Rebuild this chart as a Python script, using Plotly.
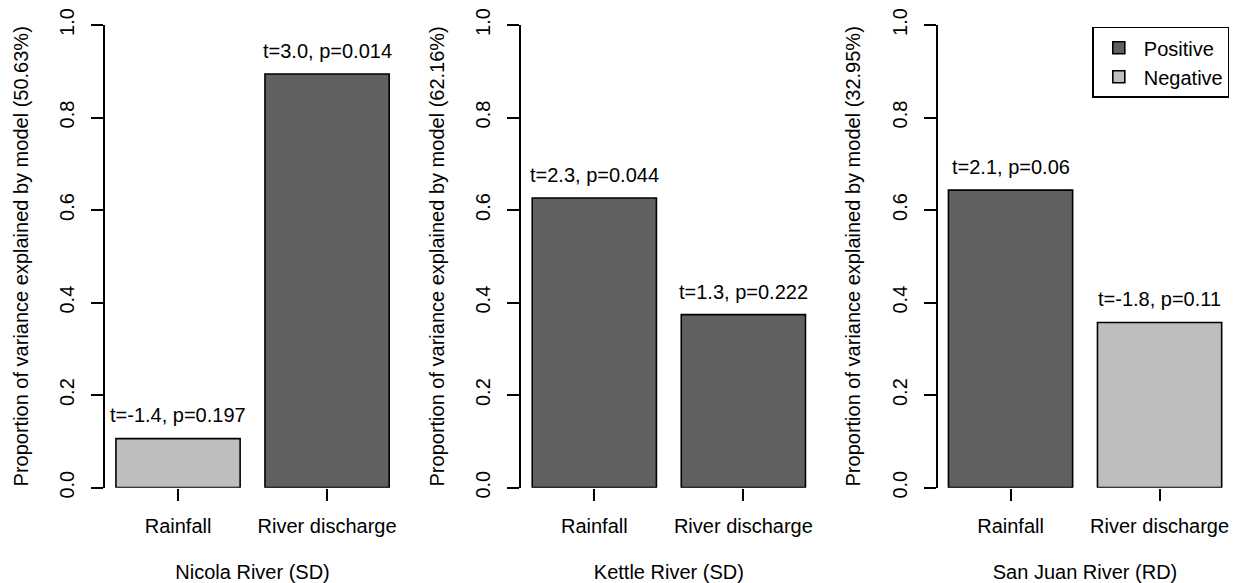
import plotly.graph_objects as go

# Model summaries for three rivers
rivers = ["Nicola River (SD)", "Kettle River (SD)", "San Juan River (RD)"]
model_r2_pct = [50.63, 62.16, 32.95]
predictors = ["Rainfall", "River discharge"]

# Proportion of explained variance attributed to each predictor
prop_nicola = [0.106, 0.894]
prop_kettle = [0.626, 0.374]
prop_sanjuan = [0.643, 0.357]

# t statistics and p values for each predictor
t_nicola = [-1.4, 3.0]
t_kettle = [2.3, 1.3]
t_sanjuan = [2.1, -1.8]
p_nicola = [0.197, 0.014]
p_kettle = [0.044, 0.222]
p_sanjuan = [0.06, 0.11]

proportions = [prop_nicola, prop_kettle, prop_sanjuan]
t_stats = [t_nicola, t_kettle, t_sanjuan]
p_vals = [p_nicola, p_kettle, p_sanjuan]

POS_COL = "#5F605F"
NEG_COL = "#BEBEBE"
FONT = "Liberation Sans, Arial, Helvetica, sans-serif"
FS = 20

W, H = 1233, 583
# bar centres in barplot units (width 1, space 0.2)
centres = [0.7, 1.9]
xrange_ = [0.112, 2.488]

panel_left_px = [105.0, 521.3, 937.5]
panel_w_px = 295.1
y_dom = [(H - 487.67) / H, (H - 25.0) / H]

fig = go.Figure()
shown = set()
annotations = []

for i in range(3):
    ax = "" if i == 0 else str(i + 1)
    xref, yref = "x" + ax, "y" + ax
    for sign_name, col in (("Positive", POS_COL), ("Negative", NEG_COL)):
        xs, ys = [], []
        for j in range(2):
            is_pos = t_stats[i][j] > 0
            if (sign_name == "Positive") == is_pos:
                xs.append(centres[j])
                ys.append(proportions[i][j])
        fig.add_trace(go.Bar(
            x=xs if xs else [None], y=ys if ys else [None],
            width=1.0, name=sign_name,
            showlegend=sign_name not in shown,
            marker=dict(color=col, line=dict(color="black", width=1.6)),
            xaxis=xref, yaxis=yref, hoverinfo="skip",
        ))
        shown.add(sign_name)
    for j in range(2):
        annotations.append(dict(
            x=centres[j], y=proportions[i][j] + 0.05, xref=xref, yref=yref,
            text=f"t={t_stats[i][j]:.1f}, p={p_vals[i][j]}",
            showarrow=False, yanchor="middle", xanchor="center",
            font=dict(size=FS, color="black", family=FONT),
        ))

    x0 = panel_left_px[i] / W
    x1 = (panel_left_px[i] + panel_w_px) / W
    fig.update_layout(**{
        "xaxis" + ax: dict(
            domain=[x0, x1], range=xrange_, anchor=yref,
            tickvals=centres, ticktext=predictors,
            ticks="outside", ticklen=12, tickwidth=2, tickcolor="black",
            showline=False, showgrid=False, zeroline=False,
            tickfont=dict(size=FS, color="black", family=FONT),
            ticklabelstandoff=8,
            title=dict(text=rivers[i], standoff=30,
                       font=dict(size=FS, color="black", family=FONT)),
            automargin=False, fixedrange=True,
        ),
        "yaxis" + ax: dict(
            domain=y_dom, range=[0, 1], anchor=xref,
            tickvals=[0, 0.2, 0.4, 0.6, 0.8, 1.0], tickformat=".1f",
            tickangle=-90, ticks="outside", ticklen=12, tickwidth=2,
            tickcolor="black", showline=True, linewidth=2, linecolor="black",
            showgrid=False, zeroline=False,
            tickfont=dict(size=FS, color="black", family=FONT),
            ticklabelstandoff=9,
            title=dict(text=f"Proportion of variance explained by model ({model_r2_pct[i]:.2f}%)",
                       standoff=22,
                       font=dict(size=FS, color="black", family=FONT)),
            automargin=False, fixedrange=True,
        ),
    })

fig.update_layout(
    width=W, height=H,
    margin=dict(l=0, r=0, t=0, b=0),
    paper_bgcolor="white", plot_bgcolor="white",
    barmode="overlay",
    annotations=annotations,
    font=dict(family=FONT, size=FS, color="black"),
    legend=dict(
        x=1229.3 / W, y=(H - 26.7) / H, xanchor="right", yanchor="top",
        bordercolor="black", borderwidth=1.5, bgcolor="white",
        font=dict(size=FS, color="black", family=FONT),
        itemwidth=40, tracegroupgap=0,
    ),
)

fig.write_html("out.html")
